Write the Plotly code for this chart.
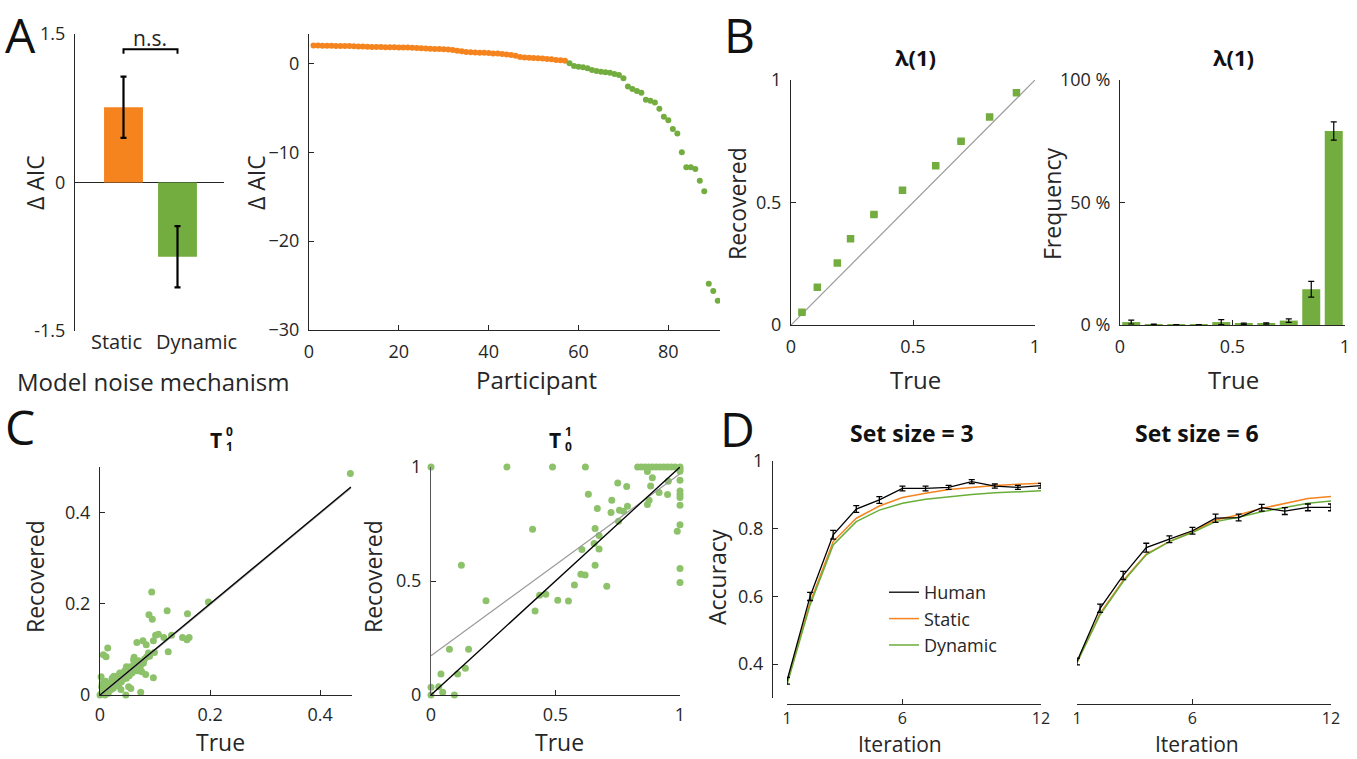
import plotly.graph_objects as go

W, H = 1357, 759
def fx(p): return p / W
def fy(p): return 1 - p / H

FONT = "Open Sans"
AX = "#262626"
ORANGE = "#F5841F"
GREEN = "#74AD3F"
LGREEN = "#8DC26B"

# ---------------- Data ----------------
# Panel A (bar)
models = ["Static", "Dynamic"]
daic_mean = [0.76, -0.75]
daic_err = [0.31, 0.31]

# Panel A (scatter) – per-participant ΔAIC, sorted
daic_static_part = [2.0, 2.0, 1.99, 1.98, 1.97, 1.96, 1.95, 1.95, 1.94, 1.93,
                    1.9, 1.88, 1.86, 1.85, 1.84, 1.83, 1.82, 1.81, 1.8, 1.79,
                    1.78, 1.77, 1.75, 1.73, 1.71, 1.68, 1.65, 1.62, 1.6, 1.58,
                    1.55, 1.5, 1.42, 1.35, 1.28, 1.25, 1.22, 1.2, 1.18, 1.15,
                    1.12, 1.1, 1.05, 1.0, 0.95, 0.85, 0.72, 0.65, 0.62, 0.6,
                    0.58, 0.55, 0.5, 0.45, 0.38, 0.34, 0.3]
daic_dynamic_part = [0.0, -0.3, -0.38, -0.45, -0.56, -0.75, -0.86, -0.94, -1.01, -1.05,
                     -1.2, -1.31, -1.69, -2.6, -2.9, -3.1, -3.3, -4.1, -4.2, -4.4,
                     -5.1, -6.0, -6.4, -7.4, -7.9, -10.0, -11.7, -11.7, -11.9, -13.2,
                     -14.4, -24.8, -25.6, -26.7]

# Panel B – lambda(1) recovery
lam_true = [0.045, 0.108, 0.19, 0.244, 0.34, 0.457, 0.593, 0.697, 0.814, 0.924]
lam_rec = [0.052, 0.154, 0.253, 0.352, 0.451, 0.55, 0.65, 0.75, 0.849, 0.948]
bin_centers = [0.05, 0.15, 0.25, 0.35, 0.45, 0.55, 0.65, 0.75, 0.85, 0.95]
freq_pct = [1.2, 0.2, 0.1, 0.1, 1.2, 0.5, 0.6, 1.8, 14.6, 79.2]
freq_err = [0.8, 0.2, 0.1, 0.1, 1.0, 0.3, 0.3, 0.7, 3.2, 3.7]

# Panel C – T^0_1 recovery
t01_true = [0.455, 0.094, 0.197, 0.122, 0.159, 0.089, 0.095, 0.014, 0.006, 0.011,
            0.13, 0.15, 0.158, 0.162, 0.101, 0.106, 0.116, 0.124, 0.067, 0.078,
            0.084, 0.097, 0.099, 0.097, 0.083, 0.074, 0.047, 0.056, 0.002, 0.062,
            0.061, 0.067, 0.073, 0.079, 0.055, 0.048, 0.045, 0.036, 0.03, 0.024,
            0.018, 0.012, 0.006, 0.003, 0.0, 0.009, 0.015, 0.024, 0.033, 0.039,
            0.048, 0.058, 0.064, 0.072, 0.085, 0.088, 0.038, 0.044, 0.032, 0.022,
            0.027, 0.006, 0.003, 0.005, 0.012, 0.052, 0.059, 0.068, 0.076, 0.052,
            0.041, 0.05, 0.057, 0.063, 0.07, 0.035, 0.028, 0.02, 0.008, 0.016,
            0.043, 0.053, 0.066, 0.075, 0.081, 0.09, 0.025, 0.01, 0.004, 0.034]
t01_rec = [0.486, 0.226, 0.204, 0.185, 0.178, 0.176, 0.166, 0.103, 0.088, 0.084,
           0.131, 0.126, 0.121, 0.126, 0.131, 0.133, 0.126, 0.095, 0.115, 0.119,
           0.11, 0.119, 0.093, 0.038, 0.045, 0.006, 0.0, 0.014, 0.04, 0.083,
           0.077, 0.07, 0.062, 0.07, 0.062, 0.062, 0.053, 0.048, 0.04, 0.033,
           0.026, 0.018, 0.011, 0.004, 0.0, 0.0, 0.004, 0.015, 0.02, 0.029,
           0.037, 0.048, 0.053, 0.059, 0.084, 0.092, 0.012, 0.04, 0.029, 0.037,
           0.022, 0.026, 0.018, 0.007, 0.007, 0.048, 0.062, 0.053, 0.051, 0.018,
           0.045, 0.058, 0.05, 0.066, 0.075, 0.044, 0.03, 0.012, 0.015, 0.024,
           0.035, 0.042, 0.058, 0.068, 0.079, 0.085, 0.041, 0.03, 0.025, 0.022]
t01_fit = [0.0, 0.456]

# Panel C – T^1_0 recovery
t10_true = [0.0, 0.305, 0.488, 0.62, 0.83, 0.845, 0.86, 0.875, 0.89, 0.905, 0.92, 0.935,
            0.95, 0.965, 0.98, 1.0, 0.408, 0.122, 0.632, 0.668, 0.726, 0.75, 0.786,
            0.723, 0.757, 0.773, 0.789, 0.753, 0.659, 0.675, 0.655, 0.675, 0.606,
            0.659, 0.602, 0.619, 0.576, 0.706, 0.436, 0.461, 0.509, 0.552, 0.418,
            0.221, 0.074, 0.151, 0.107, 0.138, 0.04, 0.0, 0.031, 0.047, 0.094, 0.0,
            0.869, 0.889, 0.882, 0.916, 0.95, 0.953, 0.876, 0.869, 0.989,
            1.0, 1.0, 1.0, 1.0, 1.0, 1.0, 1.0, 1.0, 1.0, 1.0]
t10_rec = [1.0, 1.0, 1.0, 1.0, 1.0, 1.0, 1.0, 1.0, 1.0, 1.0, 1.0, 1.0,
           1.0, 1.0, 1.0, 1.0, 0.727, 0.569, 0.88, 0.818, 0.854, 0.93, 0.915,
           0.8, 0.81, 0.806, 0.828, 0.762, 0.73, 0.7, 0.664, 0.64, 0.638,
           0.569, 0.53, 0.526, 0.482, 0.477, 0.438, 0.442, 0.416, 0.412, 0.368,
           0.413, 0.201, 0.201, 0.092, 0.117, 0.092, 0.034, 0.036, 0.012, 0.0, 0.0,
           0.98, 0.953, 0.917, 0.888, 0.879, 0.937, 0.854, 0.835, 0.718,
           0.99, 0.981, 0.942, 0.895, 0.879, 0.866, 0.832, 0.747, 0.555, 0.493]
t10_identity = [0.0, 1.0]
t10_fit_x = [0.0, 1.0]
t10_fit_y = [0.172, 0.97]

# Panel D – learning curves
iterations = list(range(1, 13))
human_3 = [0.351, 0.600, 0.782, 0.858, 0.885, 0.919, 0.919, 0.922, 0.939, 0.926, 0.922, 0.927]
human_3_err = [0.01, 0.012, 0.013, 0.01, 0.01, 0.007, 0.007, 0.006, 0.006, 0.006, 0.006, 0.007]
static_3 = [0.345, 0.582, 0.762, 0.831, 0.867, 0.892, 0.905, 0.916, 0.922, 0.928, 0.931, 0.934]
dynamic_3 = [0.34, 0.575, 0.752, 0.821, 0.855, 0.875, 0.887, 0.895, 0.901, 0.906, 0.91, 0.912]
human_6 = [0.408, 0.565, 0.662, 0.744, 0.769, 0.794, 0.831, 0.833, 0.862, 0.852, 0.863, 0.863]
human_6_err = [0.01, 0.012, 0.012, 0.013, 0.01, 0.01, 0.012, 0.01, 0.01, 0.01, 0.01, 0.01]
static_6 = [0.405, 0.55, 0.647, 0.725, 0.762, 0.791, 0.826, 0.841, 0.86, 0.874, 0.889, 0.895]
dynamic_6 = [0.405, 0.546, 0.644, 0.723, 0.762, 0.789, 0.821, 0.834, 0.85, 0.863, 0.875, 0.882]

# ---------------- Figure ----------------
fig = go.Figure()

# A bar
fig.add_trace(go.Bar(x=[0, 1], y=daic_mean, marker=dict(color=[ORANGE, GREEN], line=dict(width=0)),
                     width=0.72,
                     error_y=dict(type="data", array=daic_err, color="black", thickness=2.2, width=3),
                     xaxis="x", yaxis="y", showlegend=False))

# A scatter
fig.add_trace(go.Scatter(x=list(range(1, len(daic_static_part) + 1)), y=daic_static_part, mode="markers",
                         marker=dict(color=ORANGE, size=6), xaxis="x2", yaxis="y2", showlegend=False))
n0 = len(daic_static_part)
fig.add_trace(go.Scatter(x=list(range(n0 + 1, n0 + len(daic_dynamic_part) + 1)), y=daic_dynamic_part,
                         mode="markers", marker=dict(color=GREEN, size=6), xaxis="x2", yaxis="y2",
                         showlegend=False))

# B left
fig.add_trace(go.Scatter(x=[0, 1], y=[0, 1], mode="lines", line=dict(color="#9a9a9a", width=1.2),
                         xaxis="x3", yaxis="y3", showlegend=False))
fig.add_trace(go.Scatter(x=lam_true, y=lam_rec, mode="markers",
                         marker=dict(color=GREEN, size=7.5, symbol="square"),
                         error_x=dict(type="constant", value=0.012, color="#4d8a2a", thickness=1, width=2),
                         xaxis="x3", yaxis="y3", showlegend=False))

# B right
fig.add_trace(go.Bar(x=bin_centers, y=freq_pct, width=0.08, marker=dict(color=GREEN, line=dict(width=0)),
                     error_y=dict(type="data", array=freq_err, color="black", thickness=1.2, width=3),
                     xaxis="x4", yaxis="y4", showlegend=False))

# C left
fig.add_trace(go.Scatter(x=t01_true, y=t01_rec, mode="markers", marker=dict(color=LGREEN, size=7),
                         xaxis="x5", yaxis="y5", showlegend=False, cliponaxis=False))
fig.add_trace(go.Scatter(x=t01_fit, y=[t01_fit[0] - 0.002, t01_fit[1] - 0.002], mode="lines",
                         line=dict(color="#9a9a9a", width=1.2), xaxis="x5", yaxis="y5", showlegend=False))
fig.add_trace(go.Scatter(x=t01_fit, y=t01_fit, mode="lines", line=dict(color="black", width=1.3),
                         xaxis="x5", yaxis="y5", showlegend=False))

# C right
fig.add_trace(go.Scatter(x=t10_true, y=t10_rec, mode="markers", marker=dict(color=LGREEN, size=7),
                         xaxis="x6", yaxis="y6", showlegend=False, cliponaxis=False))
fig.add_trace(go.Scatter(x=t10_fit_x, y=t10_fit_y, mode="lines", line=dict(color="#9a9a9a", width=1.2),
                         xaxis="x6", yaxis="y6", showlegend=False))
fig.add_trace(go.Scatter(x=t10_identity, y=t10_identity, mode="lines", line=dict(color="black", width=1.3),
                         xaxis="x6", yaxis="y6", showlegend=False))

# D left
fig.add_trace(go.Scatter(x=iterations, y=static_3, mode="lines", name="Static",
                         line=dict(color=ORANGE, width=1.5), xaxis="x7", yaxis="y7", legendrank=2))
fig.add_trace(go.Scatter(x=iterations, y=dynamic_3, mode="lines", name="Dynamic",
                         line=dict(color="#6AAE3A", width=1.5), xaxis="x7", yaxis="y7", legendrank=3))
fig.add_trace(go.Scatter(x=iterations, y=human_3, mode="lines", name="Human",
                         line=dict(color="black", width=1.3),
                         error_y=dict(type="data", array=human_3_err, color="black", thickness=1.3, width=3),
                         xaxis="x7", yaxis="y7", legendrank=1))
# D right
fig.add_trace(go.Scatter(x=iterations, y=static_6, mode="lines", line=dict(color=ORANGE, width=1.5),
                         xaxis="x8", yaxis="y8", showlegend=False))
fig.add_trace(go.Scatter(x=iterations, y=dynamic_6, mode="lines", line=dict(color="#6AAE3A", width=1.5),
                         xaxis="x8", yaxis="y8", showlegend=False))
fig.add_trace(go.Scatter(x=iterations, y=human_6, mode="lines", line=dict(color="black", width=1.3),
                         error_y=dict(type="data", array=human_6_err, color="black", thickness=1.3, width=3),
                         xaxis="x8", yaxis="y8", showlegend=False))


def ax(d0, d1, rng, **kw):
    base = dict(domain=[d0, d1], range=rng, showline=True, linecolor=AX, linewidth=1,
                ticks="inside", ticklen=5, tickcolor=AX, showgrid=False, zeroline=False,
                automargin=False,
                tickfont=dict(family=FONT, size=18, color=AX), ticklabelstandoff=5)
    base.update(kw)
    return base


def xd(p0, p1): return fx(p0), fx(p1)
def yd(top, bot): return fy(bot), fy(top)


layout = dict(
    width=W, height=H, margin=dict(l=0, r=0, t=0, b=0, autoexpand=False),
    plot_bgcolor="white", paper_bgcolor="white",
    font=dict(family=FONT, color=AX),
    showlegend=True,
    legend=dict(x=fx(884), y=fy(574), xanchor="left", yanchor="top", bgcolor="rgba(0,0,0,0)",
                font=dict(family=FONT, size=18, color=AX), tracegroupgap=0, itemwidth=30,
                traceorder="normal"),
)

DTICK = dict(family=FONT, size=16, color=AX)

# A bar axes
layout["xaxis"] = ax(*xd(75, 224), [-0.898, 1.861], showline=False, ticks="", showticklabels=False,
                     anchor="y")
layout["yaxis"] = ax(*yd(34, 331), [-1.5, 1.5], tickvals=[-1.5, 0, 1.5], ticktext=["-1.5", "0", "1.5"],
                     zeroline=True, zerolinecolor=AX, zerolinewidth=1, anchor="x")
# A scatter
layout["xaxis2"] = ax(*xd(309, 720), [0, 91.5], tickvals=[0, 20, 40, 60, 80], anchor="y2")
layout["yaxis2"] = ax(*yd(34, 330), [-30, 3.3], tickvals=[-30, -20, -10, 0], anchor="x2")
# B left
layout["xaxis3"] = ax(*xd(791, 1035), [0, 1], tickvals=[0, 0.5, 1], anchor="y3")
layout["yaxis3"] = ax(*yd(80, 325), [0, 1], tickvals=[0, 0.5, 1], anchor="x3")
# B right
layout["xaxis4"] = ax(*xd(1120, 1345), [0, 1], tickvals=[0, 0.5, 1], anchor="y4")
layout["yaxis4"] = ax(*yd(80, 325), [0, 100], tickvals=[0, 50, 100], ticktext=["0 %", "50 %", "100 %"],
                      anchor="x4")
# C left
layout["xaxis5"] = ax(*xd(100, 352), [0, 0.458], tickvals=[0, 0.2, 0.4], anchor="y5", ticklabelstandoff=3)
layout["yaxis5"] = ax(*yd(467, 695), [0, 0.5], tickvals=[0, 0.2, 0.4], anchor="x5")
# C right
layout["xaxis6"] = ax(*xd(431, 680), [0, 1], tickvals=[0, 0.5, 1], anchor="y6", ticklabelstandoff=3)
layout["yaxis6"] = ax(*yd(467, 695), [0, 1], tickvals=[0, 0.5, 1], anchor="x6", linecolor="#555555")
# D left
layout["xaxis7"] = ax(*xd(787, 1041), [1, 12], tickvals=[1, 6, 12], anchor="free", position=fy(704),
                      ticklabelstandoff=0, tickfont=DTICK)
layout["yaxis7"] = ax(*yd(461, 698), [0.3, 1], tickvals=[0.3, 0.4, 0.6, 0.8, 1],
                      ticktext=["", "0.4", "0.6", "0.8", "1"], anchor="free", position=fx(772))
# D right
layout["xaxis8"] = ax(*xd(1077, 1331), [1, 12], tickvals=[1, 6, 12], anchor="free", position=fy(704),
                      ticklabelstandoff=0, tickfont=DTICK)
layout["yaxis8"] = ax(*yd(461, 698), [0.3, 1], showline=False, ticks="", showticklabels=False,
                      anchor="free", position=fx(1077))

fig.update_layout(**layout)

ann = []


def text(x, y, s, size=23, bold=False, angle=0, xanchor="center", yanchor="middle", color=AX, pad=1):
    ann.append(dict(x=fx(x), y=fy(y), xref="paper", yref="paper", text=(f"<b>{s}</b>" if bold else s),
                    showarrow=False, textangle=angle, xanchor=xanchor, yanchor=yanchor, borderpad=pad,
                    font=dict(family=FONT, size=size, color=color)))


# panel letters
text(3, 34, "A", size=48, xanchor="left", color="#111")
text(722, 34, "B", size=48, xanchor="left", color="#111")
text(3, 426, "C", size=48, xanchor="left", color="#111")
text(718, 428, "D", size=48, xanchor="left", color="#111")

# A labels
text(35, 183, "Δ AIC", angle=-90)
text(116, 341, models[0], size=20)
text(196, 341, models[1], size=20)
text(153, 381, "Model noise mechanism", size=24)
text(150, 38, "n.s.", size=21)
text(256, 183, "Δ AIC", angle=-90)
text(536, 379, "Participant", size=24)

# B labels
text(915, 57, "λ(1)", size=22, bold=True, color="#111")
text(1233, 57, "λ(1)", size=22, bold=True, color="#111")
text(737, 204, "Recovered", angle=-90)
text(1052, 204, "Frequency", angle=-90)
text(915, 379, "True", size=24)
text(1233, 379, "True", size=24)

# C labels
text(216, 440, "T", size=21, bold=True, color="#111")
text(229, 431, "0", size=12, bold=True, color="#111")
text(229, 446, "1", size=12, bold=True, color="#111")
text(555, 440, "T", size=21, bold=True, color="#111")
text(568, 431, "1", size=12, bold=True, color="#111")
text(568, 446, "0", size=12, bold=True, color="#111")
text(35, 577, "Recovered", angle=-90)
text(373, 577, "Recovered", angle=-90)
text(221, 759, "True", size=23, yanchor="bottom", pad=0)
text(559, 759, "True", size=23, yanchor="bottom", pad=0)

# D labels
text(912, 433, "Set size = 3", size=23, bold=True, color="#111")
text(1197, 433, "Set size = 6", size=23, bold=True, color="#111")
text(717, 577, "Accuracy", angle=-90)
text(900, 759, "Iteration", size=21, yanchor="bottom", pad=0)
text(1197, 759, "Iteration", size=21, yanchor="bottom", pad=0)

fig.update_layout(annotations=ann)

# n.s. bracket (data coords of bar panel)
fig.add_shape(type="path", path="M 0,1.30 L 0,1.345 L 1,1.345 L 1,1.30", xref="x", yref="y",
              line=dict(color="black", width=2))

fig.write_html("out.html")
